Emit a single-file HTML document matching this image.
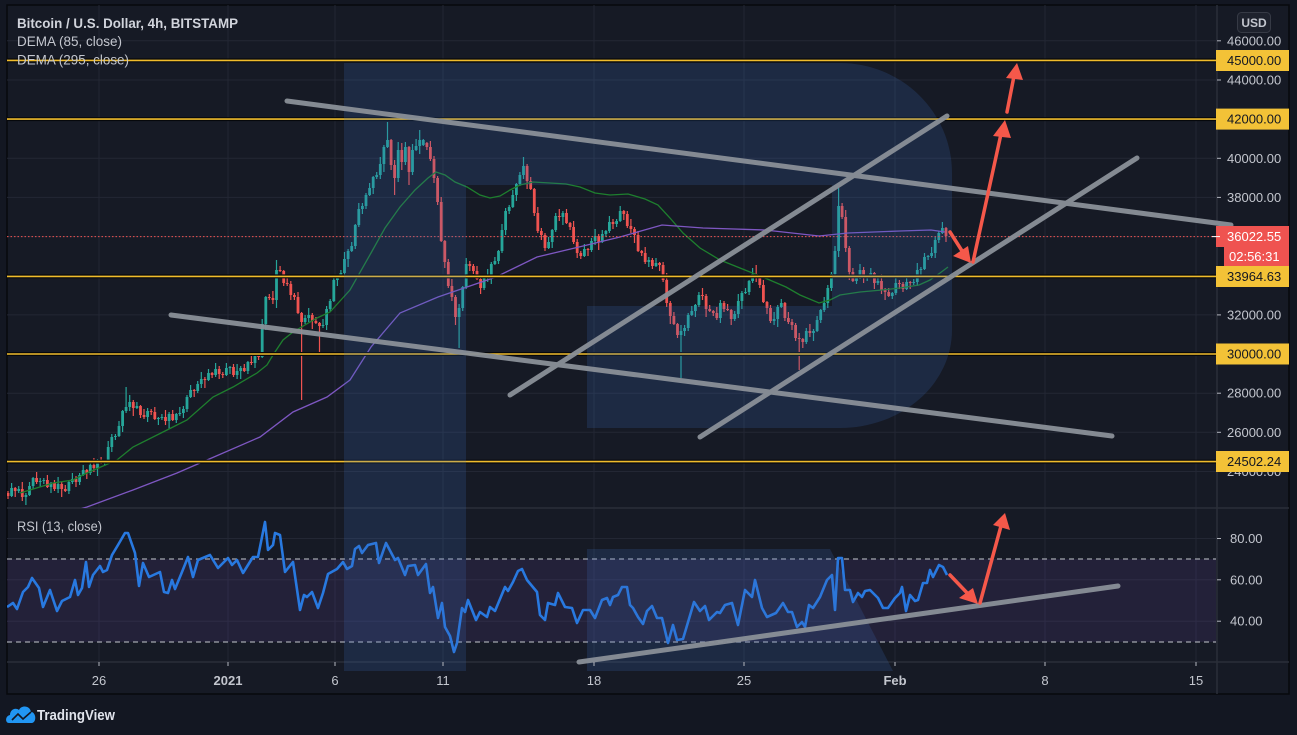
<!DOCTYPE html>
<html><head><meta charset="utf-8"><style>
html,body{margin:0;padding:0;background:#131722;overflow:hidden;}
svg{display:block;font-family:"Liberation Sans",sans-serif;}
</style></head><body>
<svg width="1297" height="735" viewBox="0 0 1297 735" xmlns="http://www.w3.org/2000/svg">
<defs>
<clipPath id="mainclip"><rect x="7" y="5" width="1210" height="503"/></clipPath>
<clipPath id="rsiclip"><rect x="7" y="508" width="1210" height="154"/></clipPath>
</defs>
<rect x="0" y="0" width="1297" height="735" fill="#131722"/>
<rect x="7" y="5" width="1282" height="689" fill="#161a25" stroke="#07090d" stroke-width="1.5"/>

<!-- grid -->
<g stroke="#232734" stroke-width="1">
<line x1="7" y1="40.8" x2="1217" y2="40.8"/><line x1="7" y1="80" x2="1217" y2="80"/>
<line x1="7" y1="119.1" x2="1217" y2="119.1"/><line x1="7" y1="158.3" x2="1217" y2="158.3"/>
<line x1="7" y1="197.4" x2="1217" y2="197.4"/><line x1="7" y1="236.6" x2="1217" y2="236.6"/>
<line x1="7" y1="275.7" x2="1217" y2="275.7"/><line x1="7" y1="314.9" x2="1217" y2="314.9"/>
<line x1="7" y1="354" x2="1217" y2="354"/><line x1="7" y1="393.2" x2="1217" y2="393.2"/>
<line x1="7" y1="432.3" x2="1217" y2="432.3"/><line x1="7" y1="471.5" x2="1217" y2="471.5"/>
<line x1="7" y1="538.5" x2="1217" y2="538.5"/><line x1="7" y1="579.8" x2="1217" y2="579.8"/>
<line x1="7" y1="621.2" x2="1217" y2="621.2"/>
<line x1="99" y1="5" x2="99" y2="666"/><line x1="228" y1="5" x2="228" y2="666"/>
<line x1="335" y1="5" x2="335" y2="666"/><line x1="443" y1="5" x2="443" y2="666"/>
<line x1="594" y1="5" x2="594" y2="666"/><line x1="744" y1="5" x2="744" y2="666"/>
<line x1="895" y1="5" x2="895" y2="666"/><line x1="1045" y1="5" x2="1045" y2="666"/>
<line x1="1196" y1="5" x2="1196" y2="666"/>
</g>
<line x1="7" y1="508" x2="1289" y2="508" stroke="#2a2e39" stroke-width="1.5"/>
<line x1="7" y1="662" x2="1289" y2="662" stroke="#2a2e39" stroke-width="1.5"/>
<line x1="1217" y1="5" x2="1217" y2="694" stroke="#2a2e39" stroke-width="1.5"/>

<!-- RSI band -->
<rect x="7" y="559" width="1209" height="83" fill="rgba(126,87,194,0.13)"/>
<line x1="7" y1="559" x2="1216" y2="559" stroke="#a3a6af" stroke-width="1.3" stroke-dasharray="5,4"/>
<line x1="7" y1="642" x2="1216" y2="642" stroke="#a3a6af" stroke-width="1.3" stroke-dasharray="5,4"/>

<!-- candles -->
<g clip-path="url(#mainclip)" fill="none" stroke-linecap="butt">
<path stroke="#26a69a" stroke-width="1.2" d="M11.6 483V497M18.7 486V493M25.9 493V505M29.5 482V496M33.1 477V489M40.2 478V487M43.8 478V484M51 482V493M58.1 477V493M68.9 481V494M72.4 473V484M79.6 473V485M83.2 465V476M90.3 462V475M97.5 459V476M104.7 460V466M108.2 441V463M111.8 434V452M115.4 434V440M119 421V437M122.6 410V432M126.1 387V413M129.7 395V411M136.9 402V409M147.6 408V422M158.4 417V425M161.9 414V420M169.1 412V429M176.3 413V423M179.8 407V416M183.4 406V418M187 395V412M190.6 385V398M197.7 381V393M201.3 372V388M208.5 369V381M215.6 363V377M226.4 363V376M230 366V374M237.1 364V379M240.7 366V379M247.9 361V374M255 352V368M262.2 319V358M265.8 296V330M276.5 260V308M305.1 315V324M308.7 308V322M323 319V328M326.6 306V330M330.2 299V312M333.8 275V302M337.4 275V286M340.9 270V278M344.5 252V277M348.1 249V267M351.7 242V252M355.3 224V249M358.8 203V227M362.4 203V214M366 193V209M369.6 183V196M373.2 176V194M376.7 172V179M380.3 157V179M383.9 145V172M387.5 122V148M398.2 142V182M405.4 142V165M412.5 144V175M416.1 139V151M419.7 130V154M423.3 139V146M459.1 304V348M462.7 286V311M466.2 258V289M484.1 275V290M487.7 269V282M491.3 262V284M494.9 257V265M498.5 250V264M502 224V253M505.6 208V235M509.2 205V214M512.8 190V208M516.4 183V201M519.9 172V186M523.5 157V179M548.6 237V249M552.2 229V248M555.7 213V232M562.9 211V225M584.4 244V257M591.5 238V252M595.1 229V245M602.3 230V243M605.9 230V237M609.4 216V233M616.6 219V227M620.2 206V222M648.8 257V267M656 258V267M681 325V378M684.6 325V336M688.2 313V331M691.8 306V316M695.4 304V317M698.9 292V307M720.4 300V323M734.7 311V321M738.3 294V318M741.9 291V309M745.5 288V294M749.1 280V295M752.6 268V283M774.1 312V325M777.7 305V327M781.3 299V308M806.3 328V344M813.5 329V341M817.1 316V332M820.7 309V323M824.2 297V312M827.8 285V308M831.4 272V291M835 246V275M838.6 188V257M856.5 276V284M860 264V279M867.2 275V281M870.8 268V278M877.9 278V285M892.3 292V299M895.8 277V295M906.6 277V290M913.7 279V285M917.3 263V286M920.9 267V278M924.5 253V270M928.1 255V260M931.6 247V258M935.2 237V258M938.8 231V243M942.4 222V234"/>
<path stroke="#26a69a" stroke-width="2.8" d="M11.6 488V496M18.7 489V491M25.9 495V497M29.5 486V495M33.1 478V486M40.2 481V482M43.8 480V481M51 483V487M58.1 484V489M68.9 482V491M72.4 479V482M79.6 475V482M83.2 470V475M90.3 465V473M97.5 461V468M104.7 461V463M108.2 447V461M111.8 437V447M115.4 436V437M119 426V436M122.6 411V426M126.1 407V411M129.7 402V407M136.9 406V408M147.6 411V417M158.4 418V419M161.9 417V418M169.1 414V421M176.3 414V420M179.8 413V414M183.4 409V413M187 397V409M190.6 390V397M197.7 384V391M201.3 379V384M208.5 373V380M215.6 369V375M226.4 368V375M230 367V368M237.1 371V375M240.7 368V371M247.9 362V371M255 355V363M262.2 324V357M265.8 297V324M276.5 270V300M305.1 318V322M308.7 315V318M323 325V326M326.6 309V325M330.2 301V309M333.8 280V301M337.4 276V280M340.9 273V276M344.5 259V273M348.1 251V259M351.7 246V251M355.3 225V246M358.8 209V225M362.4 206V209M366 195V206M369.6 188V195M373.2 177V188M376.7 175V177M380.3 164V175M383.9 147V164M387.5 140V147M398.2 150V178M405.4 147V162M412.5 150V172M416.1 146V150M419.7 140V146M423.3 140V145M459.1 308V317M462.7 287V308M466.2 264V287M484.1 278V288M487.7 276V278M491.3 264V276M494.9 261V264M498.5 251V261M502 230V251M505.6 211V230M509.2 207V211M512.8 195V207M516.4 184V195M519.9 175V184M523.5 166V175M548.6 242V248M552.2 230V242M555.7 216V230M562.9 213V217M584.4 249V256M591.5 241V250M595.1 236V241M602.3 234V242M605.9 231V234M609.4 222V231M616.6 221V224M620.2 211V221M648.8 260V262M656 263V266M681 331V335M684.6 328V331M688.2 315V328M691.8 311V315M695.4 305V311M698.9 295V305M720.4 303V318M734.7 314V319M738.3 301V314M741.9 293V301M745.5 292V293M749.1 281V292M752.6 274V281M774.1 319V321M777.7 307V319M781.3 303V307M806.3 331V342M813.5 331V333M817.1 320V331M820.7 310V320M824.2 303V310M827.8 288V303M831.4 274V288M835 251V274M838.6 206V251M856.5 277V281M860 270V277M867.2 277V278M870.8 273V277M877.9 281V283M892.3 293V296M895.8 283V293M906.6 282V289M913.7 282V283M917.3 270V282M920.9 269V270M924.5 257V269M928.1 256V257M931.6 253V256M935.2 240V253M938.8 233V240M942.4 228V233"/>
<path stroke="#ef5350" stroke-width="1.2" d="M8 491V499M15.2 487V497M22.3 482V501M36.6 472V484M47.4 475V488M54.5 480V491M61.7 482V497M65.3 485V492M76 476V487M86.8 469V479M93.9 458V472M101.1 457V464M133.3 400V416M140.5 405V418M144 409V419M151.2 409V415M154.8 407V420M165.5 410V425M172.7 410V421M194.2 389V397M204.9 377V388M212.1 372V378M219.2 366V379M222.8 372V378M233.5 364V377M244.3 364V372M251.4 356V365M258.6 353V360M269.3 294V300M272.9 291V304M280.1 266V272M283.7 270V286M287.2 277V286M290.8 281V300M294.4 293V300M298 292V314M301.6 312V400M312.3 313V329M315.9 317V324M319.5 322V355M391.1 139V170M394.6 160V195M401.8 143V170M409 146V185M426.9 142V150M430.4 141V161M434 156V183M437.6 176V205M441.2 197V242M444.8 240V268M448.3 259V288M451.9 279V301M455.5 295V325M469.8 261V271M473.4 264V274M477 266V280M480.6 278V294M527.1 164V189M530.7 177V190M534.3 188V216M537.8 207V233M541.4 228V240M545 233V251M559.3 209V221M566.5 209V224M570.1 222V230M573.6 221V244M577.2 239V258M580.8 251V259M588 248V256M598.7 234V250M613 219V229M623.8 210V220M627.3 211V228M630.9 219V233M634.5 227V243M638.1 231V252M641.7 250V256M645.2 247V264M652.4 258V269M659.6 262V271M663.1 262V282M666.7 273V307M670.3 301V324M673.9 312V325M677.5 323V338M702.5 288V300M706.1 294V317M709.7 305V312M713.3 310V316M716.8 307V320M724 301V312M727.6 304V311M731.2 309V325M756.2 265V282M759.8 275V288M763.4 280V303M767 301V314M770.5 305V323M784.9 302V321M788.4 312V324M792 319V330M795.6 323V341M799.2 333V370M802.8 338V348M809.9 324V337M842.1 203V219M845.7 210V252M849.3 246V280M852.9 268V282M863.6 267V283M874.4 272V289M881.5 274V294M885.1 288V300M888.7 288V297M899.4 280V289M903 282V292M910.2 281V289M946 227V242"/>
<path stroke="#ef5350" stroke-width="2.8" d="M8 493V496M15.2 488V491M22.3 489V497M36.6 478V482M47.4 480V487M54.5 483V489M61.7 484V489M65.3 489V491M76 479V482M86.8 470V473M93.9 465V468M101.1 461V463M133.3 402V408M140.5 406V415M144 415V417M151.2 411V412M154.8 412V419M165.5 417V421M172.7 414V420M194.2 390V391M204.9 379V380M212.1 373V375M219.2 369V374M222.8 374V375M233.5 367V375M244.3 368V371M251.4 362V363M258.6 355V357M269.3 297V298M272.9 298V300M280.1 270V271M283.7 271V283M287.2 283V284M290.8 284V295M294.4 295V297M298 297V313M301.6 313V322M312.3 315V321M315.9 321V323M319.5 323V326M391.1 140V165M394.6 165V178M401.8 150V162M409 147V172M426.9 143V147M430.4 147V159M434 159V178M437.6 178V202M441.2 202V241M444.8 241V262M448.3 262V286M451.9 286V297M455.5 297V317M469.8 264V266M473.4 266V271M477 271V279M480.6 279V288M527.1 166V181M530.7 181V189M534.3 189V213M537.8 213V231M541.4 231V235M545 235V248M559.3 216V217M566.5 213V223M570.1 223V227M573.6 227V242M577.2 242V253M580.8 253V256M588 249V250M598.7 236V242M613 222V224M623.8 211V214M627.3 214V226M630.9 226V229M634.5 229V235M638.1 235V251M641.7 251V253M645.2 253V262M652.4 260V266M659.6 263V265M663.1 265V280M666.7 280V303M670.3 303V316M673.9 316V324M677.5 324V335M702.5 295V296M706.1 296V309M709.7 309V311M713.3 311V313M716.8 313V318M724 303V309M727.6 309V310M731.2 310V319M756.2 274V277M759.8 277V285M763.4 285V302M767 302V308M770.5 308V321M784.9 303V318M788.4 318V322M792 322V325M795.6 325V338M799.2 338V339M802.8 339V342M809.9 331V333M842.1 206V217M845.7 217V248M849.3 248V272M852.9 272V281M863.6 270V278M874.4 273V283M881.5 281V290M885.1 290V292M888.7 292V296M899.4 283V284M903 284V289M910.2 282V283M946 228V236"/>
</g>

<!-- DEMA lines -->
<g clip-path="url(#mainclip)" fill="none">
<polyline stroke="#1e7f2e" stroke-width="1.3" points="20,493 53,483 73,480 87,473 117,460 133,447 167,430 187,420 213,397 233,387 257,373 267,365 273,355 283,340 293,332 317,318 330,312 350,290 371,253 385,228 400,207 415,190 428,178 436,172 445,175 455,182 467,187 480,195 490,198 500,196 510,190 520,185 533,182 550,183 566,184 580,187 595,193 610,195 628,194 645,199 658,205 670,218 683,233 700,248 720,260 735,266 745,270 765,278 786,287 800,295 819,303 830,300 840,295 860,292 882,290 900,288 919,285 930,280 940,273 948,267"/>
<polyline stroke="#7e57c2" stroke-width="1.3" points="80,509 87,507 133,490 177,473 207,460 260,437 293,412 327,397 350,380 371,347 400,313 438,297 496,277 537,257 579,247 620,237 662,225 703,228 765,230 819,236 848,233 900,231 931,230 945,232"/>
</g>

<line x1="7" y1="236.6" x2="1216" y2="236.6" stroke="#ef5350" stroke-width="1" stroke-dasharray="1.5,2"/>

<!-- yellow horizontal lines -->
<g>
<line x1="7" y1="60.4" x2="1216" y2="60.4" stroke="#06080c" stroke-width="4"/>
<line x1="7" y1="60.4" x2="1216" y2="60.4" stroke="#f0bc2c" stroke-width="1.6"/>
<line x1="7" y1="119.1" x2="1216" y2="119.1" stroke="#06080c" stroke-width="4"/>
<line x1="7" y1="119.1" x2="1216" y2="119.1" stroke="#f0bc2c" stroke-width="1.6"/>
<line x1="7" y1="276.4" x2="1216" y2="276.4" stroke="#06080c" stroke-width="4"/>
<line x1="7" y1="276.4" x2="1216" y2="276.4" stroke="#f0bc2c" stroke-width="1.6"/>
<line x1="7" y1="354" x2="1216" y2="354" stroke="#06080c" stroke-width="4"/>
<line x1="7" y1="354" x2="1216" y2="354" stroke="#f0bc2c" stroke-width="1.6"/>
<line x1="7" y1="461.6" x2="1216" y2="461.6" stroke="#06080c" stroke-width="4"/>
<line x1="7" y1="461.6" x2="1216" y2="461.6" stroke="#f0bc2c" stroke-width="1.6"/>
</g>

<!-- RSI line -->
<polyline clip-path="url(#rsiclip)" fill="none" stroke="#2879e0" stroke-width="2.6" stroke-linejoin="round" points="7,607 13,603 17,609 23,592 28,587 32,578 39,588 43,607 50,590 57,611 62,601 70,597 75,580 78,595 82,588 86,562 89,587 93,575 100,566 103,572 107,570 112,555 118,545 125,533 128,533 135,553 139,586 143,563 149,577 160,572 164,592 168,593 172,580 175,589 182,572 188,557 193,577 198,560 210,555 218,568 228,558 232,565 237,560 243,573 248,565 253,557 258,557 265,522 268,550 273,545 275,533 280,535 285,572 293,562 300,610 304,595 307,597 312,592 318,608 323,593 328,574 337,569 343,562 347,569 352,566 355,549 359,546 362,553 368,545 376,543 379,563 386,543 395,560 398,558 405,575 408,566 415,565 418,575 426,564 430,593 433,587 438,618 442,603 445,627 450,636 454,652 457,643 462,608 465,612 468,600 476,620 480,612 487,617 490,607 495,611 505,587 508,591 513,582 518,571 522,569 527,580 537,592 540,615 545,620 548,603 555,605 558,593 565,607 572,608 577,623 583,610 590,610 595,618 602,600 607,598 610,605 613,597 618,595 622,587 627,587 630,605 633,608 638,617 643,624 647,611 652,606 657,618 662,618 668,643 673,625 677,640 683,639 694,602 700,611 705,606 709,620 717,612 720,613 725,605 732,603 738,625 745,590 752,597 755,580 762,608 767,617 776,613 783,603 788,612 792,612 797,627 802,622 805,627 809,605 813,608 820,597 827,580 832,575 835,610 838,558 842,558 845,590 850,590 853,602 858,593 862,597 865,591 870,590 878,598 883,608 888,608 895,598 900,593 902,587 906,611 910,595 915,601 918,600 923,583 927,583 930,570 933,577 939,565 943,567 947,575"/>

<!-- R watermark -->
<path d="M344,63 H840 A112,110 0 0 1 952,173 V330 A112,98 0 0 1 840,428 H587 V306 H832 V185 H466 V671 H344 Z" fill="rgba(60,110,190,0.2)"/>
<path d="M587,549 H830 L893,671 H587 Z" fill="rgba(60,110,190,0.2)"/>

<!-- gray trend lines -->
<g stroke="#8a9098" stroke-width="5" stroke-linecap="round" opacity="0.95">
<line x1="287" y1="101" x2="1231" y2="225"/>
<line x1="171" y1="315" x2="1112" y2="436"/>
<line x1="510" y1="395" x2="947" y2="116"/>
<line x1="700" y1="437" x2="1137" y2="158"/>
<line x1="579" y1="662" x2="1118" y2="586"/>
</g>

<!-- red arrows -->
<g stroke="#f5584a" stroke-width="3.5" stroke-linecap="round" fill="#f5584a">
<line x1="950" y1="232" x2="964" y2="254"/>
<polygon stroke="none" points="971,263 953,256 968,246"/>
<line x1="973" y1="262" x2="1001" y2="134"/>
<polygon stroke="none" points="1005,120 993,136 1011,138"/>
<line x1="1007" y1="112" x2="1014" y2="76"/>
<polygon stroke="none" points="1017,63 1006,78 1023,80"/>
<line x1="950" y1="575" x2="970" y2="596"/>
<polygon stroke="none" points="978,604 959,598 973,588"/>
<line x1="980" y1="603" x2="1001" y2="526"/>
<polygon stroke="none" points="1005,513 993,525 1010,530"/>
</g>

<!-- price axis ticks -->
<g stroke="#b2b5be" stroke-width="1">
<line x1="1217" y1="40.8" x2="1221" y2="40.8"/><line x1="1217" y1="80" x2="1221" y2="80"/>
<line x1="1217" y1="158.3" x2="1221" y2="158.3"/><line x1="1217" y1="197.4" x2="1221" y2="197.4"/>
<line x1="1217" y1="314.9" x2="1221" y2="314.9"/><line x1="1217" y1="393.2" x2="1221" y2="393.2"/>
<line x1="1217" y1="432.3" x2="1221" y2="432.3"/><line x1="1217" y1="471.5" x2="1221" y2="471.5"/>
<line x1="1217" y1="538.5" x2="1221" y2="538.5"/><line x1="1217" y1="579.8" x2="1221" y2="579.8"/>
<line x1="1217" y1="621.2" x2="1221" y2="621.2"/>
</g>
<g fill="#c3c6ce" font-size="13">
<text x="1227" y="45.3">46000.00</text>
<text x="1227" y="84.5">44000.00</text>
<text x="1227" y="162.8">40000.00</text>
<text x="1227" y="201.9">38000.00</text>
<text x="1227" y="319.4">32000.00</text>
<text x="1227" y="397.7">28000.00</text>
<text x="1227" y="436.8">26000.00</text>
<text x="1227" y="476">24000.00</text>
<text x="1230" y="543">80.00</text>
<text x="1230" y="584.3">60.00</text>
<text x="1230" y="625.7">40.00</text>
</g>

<!-- price labels -->
<g font-size="13" fill="#131722">
<rect x="1216" y="50" width="73" height="21" fill="#f3c237"/><text x="1227" y="65">45000.00</text>
<rect x="1216" y="108.6" width="73" height="21" fill="#f3c237"/><text x="1227" y="123.6">42000.00</text>
<rect x="1216" y="266" width="73" height="21" fill="#f3c237"/><text x="1227" y="281">33964.63</text>
<rect x="1216" y="343.5" width="73" height="21" fill="#f3c237"/><text x="1227" y="358.5">30000.00</text>
<rect x="1216" y="451" width="73" height="21" fill="#f3c237"/><text x="1227" y="466">24502.24</text>
</g>
<rect x="1216" y="226" width="73" height="21" fill="#ef5350"/>
<text x="1227" y="241" font-size="13" fill="#ffffff">36022.55</text>
<rect x="1224" y="247" width="65" height="19" fill="#ef5350"/>
<text x="1229" y="261" font-size="13" fill="#ffffff">02:56:31</text>
<line x1="1212" y1="236.6" x2="1220" y2="236.6" stroke="#ffffff" stroke-width="1"/>

<!-- USD button -->
<rect x="1237.5" y="12.5" width="33" height="20" rx="4" fill="#1e222d" stroke="#363a45"/>
<text x="1254" y="27" font-size="12" font-weight="bold" fill="#c3c6ce" text-anchor="middle">USD</text>

<!-- time axis -->
<g stroke="#b2b5be" stroke-width="1">
<line x1="99" y1="662" x2="99" y2="666"/><line x1="228" y1="662" x2="228" y2="666"/>
<line x1="335" y1="662" x2="335" y2="666"/><line x1="443" y1="662" x2="443" y2="666"/>
<line x1="594" y1="662" x2="594" y2="666"/><line x1="744" y1="662" x2="744" y2="666"/>
<line x1="895" y1="662" x2="895" y2="666"/><line x1="1045" y1="662" x2="1045" y2="666"/>
<line x1="1196" y1="662" x2="1196" y2="666"/>
</g>
<g fill="#c3c6ce" font-size="13" text-anchor="middle">
<text x="99" y="685">26</text>
<text x="228" y="685" font-weight="bold">2021</text>
<text x="335" y="685">6</text>
<text x="443" y="685">11</text>
<text x="594" y="685">18</text>
<text x="744" y="685">25</text>
<text x="895" y="685" font-weight="bold">Feb</text>
<text x="1045" y="685">8</text>
<text x="1196" y="685">15</text>
</g>

<!-- legends -->
<text x="17" y="28" font-size="13.5" font-weight="bold" fill="#d1d4dc" textLength="221" lengthAdjust="spacingAndGlyphs">Bitcoin / U.S. Dollar, 4h, BITSTAMP</text>
<text x="17" y="46" font-size="13.5" fill="#c3c6ce" textLength="105" lengthAdjust="spacingAndGlyphs">DEMA (85, close)</text>
<text x="17" y="64.5" font-size="13.5" fill="#c3c6ce" textLength="112" lengthAdjust="spacingAndGlyphs">DEMA (295, close)</text>
<text x="17" y="531" font-size="13.5" fill="#c3c6ce" textLength="85" lengthAdjust="spacingAndGlyphs">RSI (13, close)</text>

<!-- TradingView logo -->
<path d="M9,723 C5,723 5,716 10,715 C10,710 15,707 19,710 C21,705 30,705 31,712 C36,712 37,722 32,723 Z" fill="#2196f3"/>
<polyline points="12,720 18,714 23,719 31,712" fill="none" stroke="#131722" stroke-width="1.6"/>
<text x="37" y="720" font-size="15" font-weight="bold" fill="#e0e3eb" textLength="78" lengthAdjust="spacingAndGlyphs">TradingView</text>
</svg>
</body></html>
